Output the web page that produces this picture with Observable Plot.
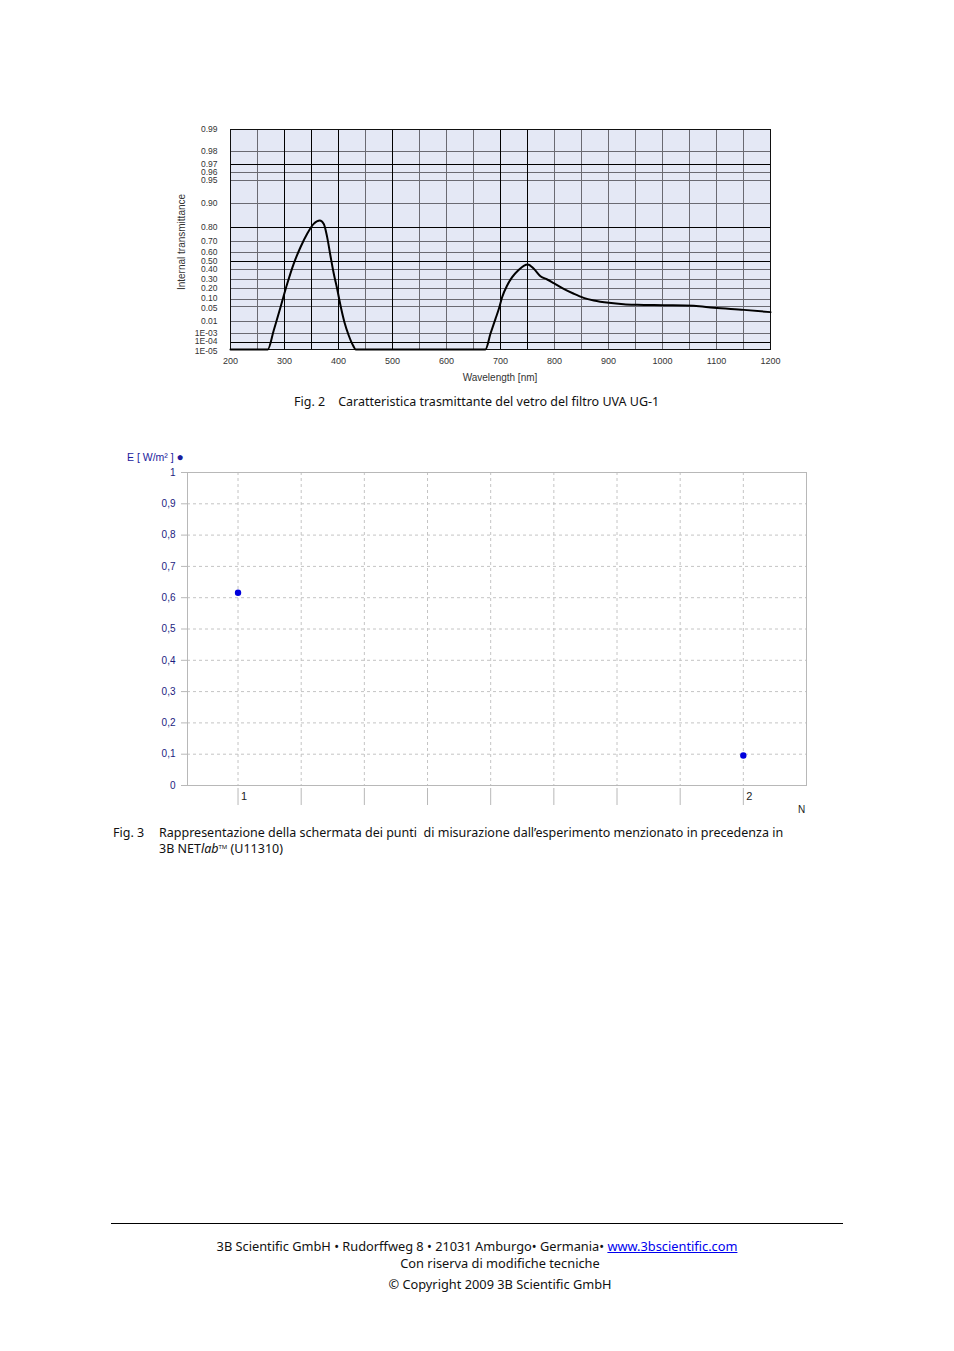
<!DOCTYPE html>
<html>
<head>
<meta charset="utf-8">
<script src="https://cdn.jsdelivr.net/npm/d3@7"></script>
<script src="https://cdn.jsdelivr.net/npm/@observablehq/plot@0.6"></script>
<style>
  html, body { margin: 0; padding: 0; background: #fff; }
  #page { position: relative; width: 954px; height: 1351px; overflow: hidden; background: #fff; }
  .abs { position: absolute; white-space: nowrap; }
  .cap { font-family: "Noto Sans", "Open Sans", sans-serif; font-size: 12.5px; color: #111; line-height: 16px; }
  .ax { font-family: "Liberation Sans", Arial, sans-serif; font-size: 10px; color: #333; line-height: 12px; }
  svg { position: absolute; left: 0; }
</style>
</head>
<body>
<div id="page"></div>
<script>
// ---------- Fig. 2 data: internal transmittance of UG-1 ----------
const wavelength = [200, 269, 280, 292.6, 305, 317, 329.6, 342, 354, 365.4, 372.8, 379, 385, 391.3, 397.5, 403.7, 411, 419, 427, 432,
  672, 681.5, 690.7, 697, 703, 712.3, 721.6, 734, 743, 750.6, 761.7, 774, 786.5, 798.7, 817, 835.8, 854, 872.8, 900.6, 928, 953, 1002, 1058, 1095, 1150.6, 1200];
const transmittance = [1e-5, 1e-5, 0.00325, 0.048, 0.252, 0.471, 0.648, 0.755, 0.815, 0.829, 0.815, 0.731, 0.567, 0.357, 0.197, 0.057, 0.0095, 0.0008, 0.000061, 1e-5,
  1e-5, 0.001, 0.017, 0.044, 0.121, 0.233, 0.323, 0.397, 0.446, 0.4625, 0.409, 0.333, 0.30, 0.259, 0.197, 0.152, 0.115, 0.093, 0.076, 0.066, 0.062, 0.059, 0.055, 0.0465, 0.041, 0.035];
const yTickValues = [1e-5, 1e-4, 1e-3, 0.01, 0.05, 0.10, 0.20, 0.30, 0.40, 0.50, 0.60, 0.70, 0.80, 0.90, 0.95, 0.96, 0.97, 0.98, 0.99];
const yTickLabels = ["1E-05", "1E-04", "1E-03", "0.01", "0.05", "0.10", "0.20", "0.30", "0.40", "0.50", "0.60", "0.70", "0.80", "0.90", "0.95", "0.96", "0.97", "0.98", "0.99"];
const xTickValues = [200, 300, 400, 500, 600, 700, 800, 900, 1000, 1100, 1200];
const xGridValues = d3.range(200, 1201, 50);

// ---------- Fig. 3 data: measured irradiance ----------
const measureN = [1, 2];
const irradiance = [0.616, 0.096];
const eTickValues = [0, 0.1, 0.2, 0.3, 0.4, 0.5, 0.6, 0.7, 0.8, 0.9, 1];
const nGridValues = [1, 1.125, 1.25, 1.375, 1.5, 1.625, 1.75, 1.875, 2];
const nLabelValues = [1, 2];

// layout (styles only)
const yPixel = [349, 342, 333, 321, 306, 299, 288, 279, 269, 261, 252, 241, 227, 203, 180, 172, 164, 151, 129];
const darkY = new Set([0.97, 0.80, 0.50, 1e-4]);
const darkX = new Set([300, 350, 400, 500, 700, 750]);
const upper = [1e-4, 0.10];   // crowded label pairs nudged apart
const lower = [1e-5, 0.05];

const page = document.getElementById("page");
const curve = wavelength.map((w, i) => ({w, t: transmittance[i]}));
const yLab = d => yTickLabels[yTickValues.indexOf(d)];
const yAxisOpts = {tickFormat: yLab, tickSize: 0, tickPadding: 13, fontSize: 8.5, fill: "#333", label: null};

const fig2 = Plot.plot({
  width: 954, height: 400,
  marginTop: 129, marginBottom: 51, marginLeft: 230, marginRight: 184,
  style: {fontFamily: "Liberation Sans, Arial, sans-serif", background: "transparent"},
  x: {domain: [200, 1200]},
  y: {type: "linear", domain: yTickValues, range: yPixel},
  marks: [
    Plot.frame({fill: "#e4e8f5", stroke: null}),
    Plot.gridX(xGridValues.filter(v => !darkX.has(v)), {stroke: "#6a6a72", strokeOpacity: 1}),
    Plot.gridY(yTickValues.filter(v => !darkY.has(v)), {stroke: "#6a6a72", strokeOpacity: 1}),
    Plot.gridX([...darkX], {stroke: "#000", strokeOpacity: 1}),
    Plot.gridY([...darkY], {stroke: "#000", strokeOpacity: 1}),
    Plot.frame({stroke: "#111"}),
    Plot.line(curve, {x: "w", y: "t", stroke: "#000", strokeWidth: 2, curve: "monotone-x"}),
    Plot.axisY({...yAxisOpts, ticks: yTickValues.filter(v => !upper.includes(v) && !lower.includes(v))}),
    Plot.axisY({...yAxisOpts, ticks: upper, dy: -1.5}),
    Plot.axisY({...yAxisOpts, ticks: lower, dy: 1.5}),
    Plot.axisX({ticks: xTickValues, tickFormat: d3.format("d"), tickSize: 0, tickPadding: 8, fontSize: 9, fill: "#333", label: null})
  ]
});
fig2.style.top = "0px";
page.appendChild(fig2);

const points = measureN.map((n, i) => ({n, e: irradiance[i]}));
const fmtE = d => (d === 0 || d === 1) ? String(d) : d3.format(".1f")(d).replace(".", ",");

const fig3 = Plot.plot({
  width: 954, height: 380,
  marginTop: 32, marginBottom: 35, marginLeft: 187, marginRight: 148,
  style: {fontFamily: "Liberation Sans, Arial, sans-serif", background: "transparent"},
  x: {domain: [0.9, 2.125]},
  y: {domain: [0, 1]},
  marks: [
    Plot.gridX(nGridValues, {stroke: "#c4c4c4", strokeOpacity: 1, strokeDasharray: "3,3"}),
    Plot.gridY(eTickValues.slice(1, -1), {stroke: "#c4c4c4", strokeOpacity: 1, strokeDasharray: "3,3"}),
    Plot.frame({stroke: "#b8b8b8"}),
    Plot.axisY({ticks: eTickValues, tickFormat: fmtE, tickSize: 6, tickPadding: 6, stroke: "#b8b8b8", fill: "#1c1c80", fontSize: 10, label: null}),
    Plot.axisX({ticks: nGridValues, tickFormat: () => "", tickSize: 17, dy: 3, stroke: "#b8b8b8", label: null}),
    Plot.axisX({ticks: nLabelValues, tickFormat: d => String(d), tickSize: 0, tickPadding: 7, textAnchor: "start", dx: 3, fill: "#222", fontSize: 11, label: null}),
    Plot.dot(points, {x: "n", y: "e", r: 3.2, fill: "#0000dd", stroke: null})
  ]
});
fig3.style.top = "440px";
page.appendChild(fig3);

function addText(html, cls, left, top, extra) {
  const d = document.createElement("div");
  d.className = "abs " + cls;
  d.innerHTML = html;
  d.style.left = left + "px";
  d.style.top = top + "px";
  if (extra) Object.assign(d.style, extra);
  page.appendChild(d);
  return d;
}

// Fig. 2 axis titles and caption
addText("Wavelength [nm]", "ax", 0, 372, {width: "1000px", textAlign: "center"});
addText("Internal transmittance", "ax", 182, 242, {transform: "translate(-50%,-50%) rotate(-90deg)"});
addText("Fig. 2&nbsp;&nbsp;&nbsp; Caratteristica trasmittante del vetro del filtro UVA UG-1", "cap", 294, 394);

// Fig. 3 labels and caption
addText("E [ W/m² ] <span style='font-size:12px'>●</span>", "ax", 127, 451, {color: "#1c1c9c", fontSize: "10.5px"});
addText("N", "ax", 798, 804, {color: "#222", fontSize: "10px"});
addText("Fig. 3", "cap", 113, 825);
addText("Rappresentazione della schermata dei punti&nbsp; di misurazione dall’esperimento menzionato in precedenza in", "cap", 159, 825);
addText("3B NET<i>lab</i><span style='position:relative;top:-4px;font-size:6px'>TM</span> (U11310)", "cap", 159, 841);

// footer
const rule = document.createElement("div");
rule.className = "abs";
Object.assign(rule.style, {left: "111px", top: "1223px", width: "732px", height: "0", borderTop: "1px solid #000"});
page.appendChild(rule);
addText("3B Scientific GmbH • Rudorffweg 8 • 21031 Amburgo• Germania• <span style='color:#0000ee;text-decoration:underline'>www.3bscientific.com</span>", "cap", 0, 1238, {width: "954px", textAlign: "center", fontSize: "12.8px"});
addText("Con riserva di modifiche tecniche", "cap", 0, 1255, {width: "1000px", textAlign: "center", fontSize: "12.8px"});
addText("© Copyright 2009 3B Scientific GmbH", "cap", 0, 1276, {width: "1000px", textAlign: "center", fontSize: "12.8px"});
</script>
</body>
</html>
